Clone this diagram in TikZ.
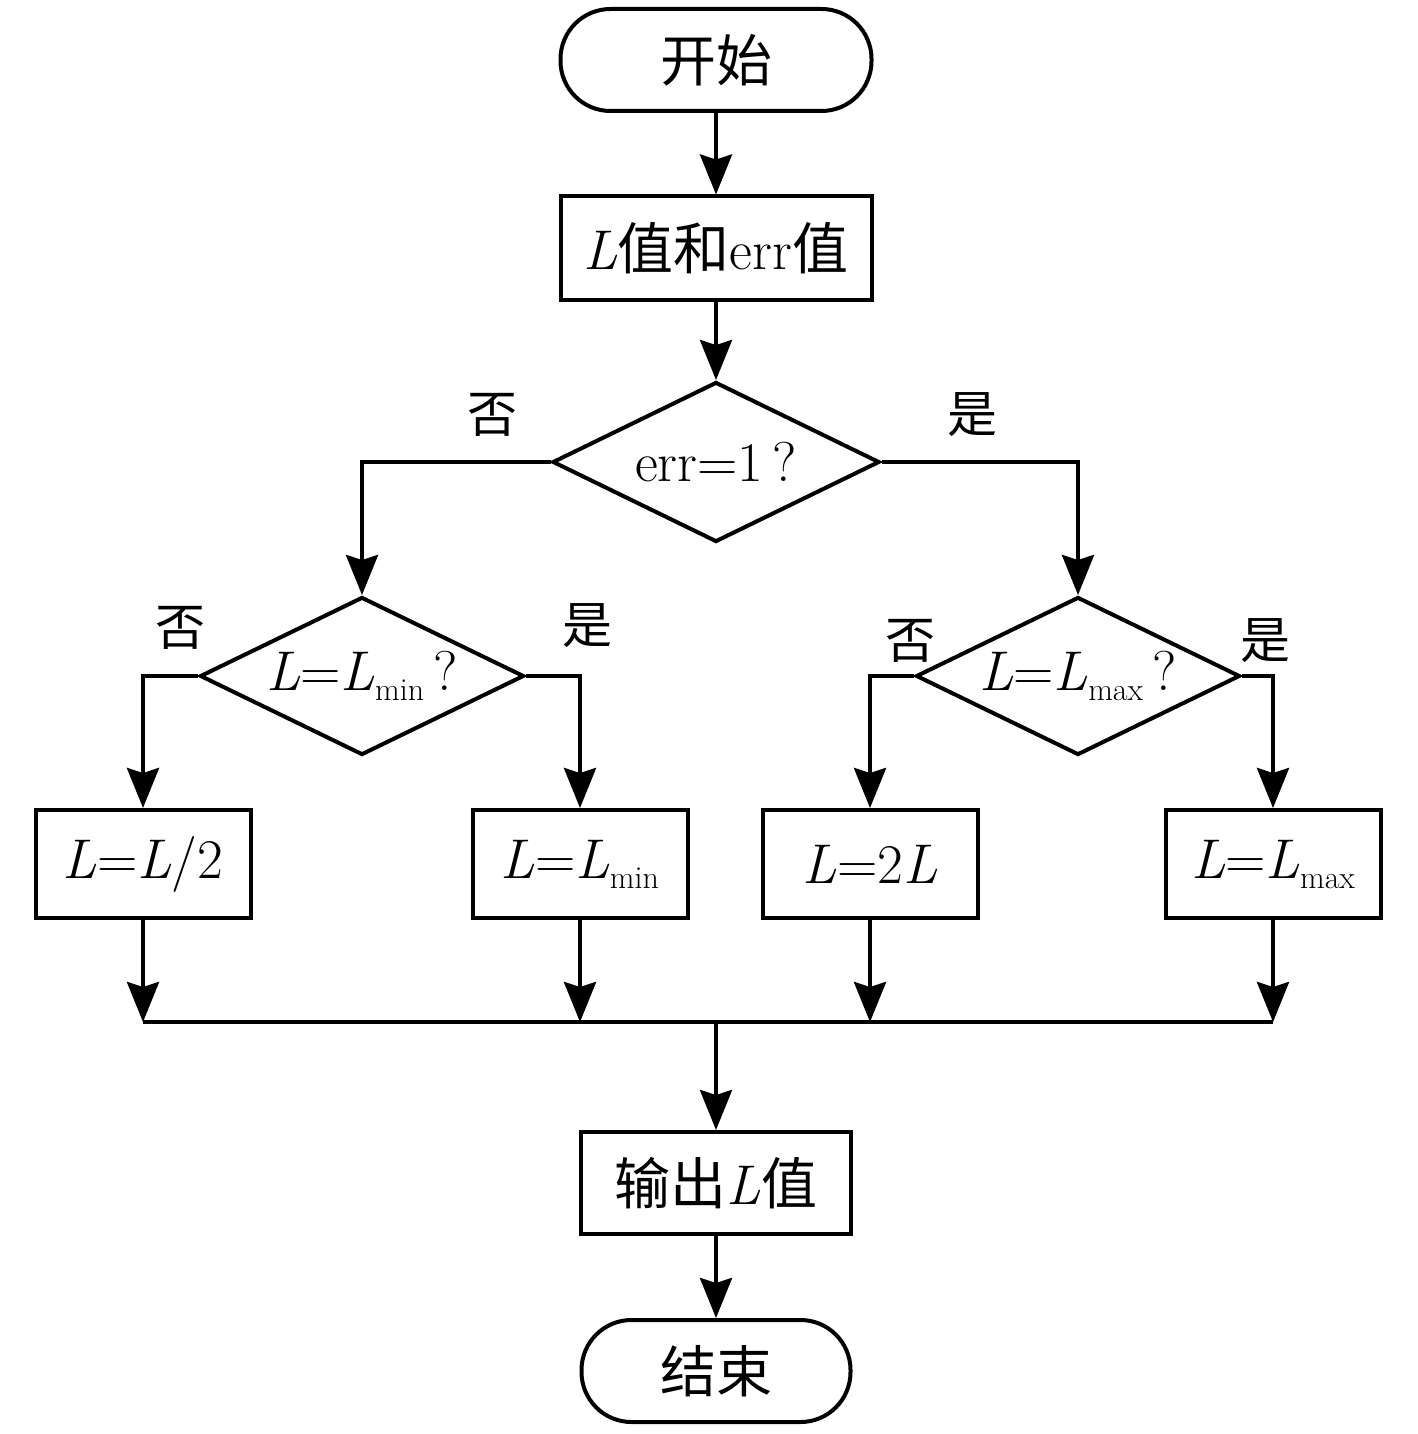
\documentclass[tikz,border=0pt]{standalone}
\usepackage{fontspec}
\newfontfamily\cjk{Noto Sans CJK SC}
\newcommand\myL{\textit{L}}
\newcommand\mysub[1]{\raisebox{-10pt}{\fontsize{32}{36}\selectfont #1}}
\usetikzlibrary{shapes.geometric,arrows.meta}
\begin{document}
\begin{tikzpicture}[x=1pt,y=-1pt,
  base/.style={draw, line width=4pt, inner sep=0pt, font=\fontsize{56}{64}\selectfont},
  term/.style={base, rectangle, rounded corners=50pt, minimum height=102pt},
  proc/.style={base, rectangle},
  dec/.style={base, diamond, aspect=2.05, minimum width=324pt, minimum height=158pt},
  arr/.style={line width=4pt, -{Stealth[length=40pt,width=32pt,inset=5pt]}},
  seg/.style={line width=4pt},
  lbl/.style={font=\fontsize{50}{56}\selectfont\cjk}
]
\useasboundingbox (0,0) rectangle (1417,1434);
\node[term, minimum width=311pt] (start) at (716,60) {{\cjk 开始}};
\node[proc, minimum width=311pt, minimum height=103pt] (b1) at (716,248) {\myL{\cjk 值和}err{\cjk 值}};
\node[dec, minimum width=327pt, minimum height=160pt] (d1) at (716,462) {err=1\,?};
\node[dec] (d2) at (362,676) {\myL=\myL\mysub{min}\,?};
\node[dec] (d3) at (1078,676) {\myL=\myL\mysub{max}\,?};
\node[proc, minimum width=215pt, minimum height=108pt] (b2) at (143,864) {\myL=\myL/2};
\node[proc, minimum width=215pt, minimum height=108pt] (b3) at (580,864) {\myL=\myL\mysub{min}};
\node[proc, minimum width=215pt, minimum height=108pt] (b4) at (870,864) {\myL=2\myL};
\node[proc, minimum width=215pt, minimum height=108pt] (b5) at (1273,864) {\myL=\myL\mysub{max}};
\node[proc, minimum width=270pt, minimum height=102pt] (out) at (716,1183) {{\cjk 输出}\myL{\cjk 值}};
\node[term, minimum width=269pt] (end) at (716,1371) {{\cjk 结束}};

\node[lbl] (l1) at (492,415) {否};
\node[lbl] (l2) at (972,415) {是};
\node[lbl] (l3) at (180,628) {否};
\node[lbl] (l4) at (587,626) {是};
\node[lbl] (l5) at (910,641) {否};
\node[lbl] (l6) at (1265,641) {是};

\coordinate (m1) at (143,1022);
\coordinate (m2) at (580,1022);
\coordinate (m3) at (870,1022);
\coordinate (m4) at (1273,1022);
\coordinate (mc) at (716,1022);

\draw[arr] (start) -- (b1);
\draw[arr] (b1) -- (d1);
\draw[arr] (d1.west) -| (d2.north);
\draw[arr] (d1.east) -| (d3.north);
\draw[arr] (d2.west) -| (b2.north);
\draw[arr] (d2.east) -| (b3.north);
\draw[arr] (d3.west) -| (b4.north);
\draw[arr] (d3.east) -| (b5.north);
\draw[arr] (b2) -- (m1);
\draw[arr] (b3) -- (m2);
\draw[arr] (b4) -- (m3);
\draw[arr] (b5) -- (m4);
\draw[seg] (m1) -- (m4);
\draw[arr] (mc) -- (out);
\draw[arr] (out) -- (end);
\end{tikzpicture}
\end{document}
